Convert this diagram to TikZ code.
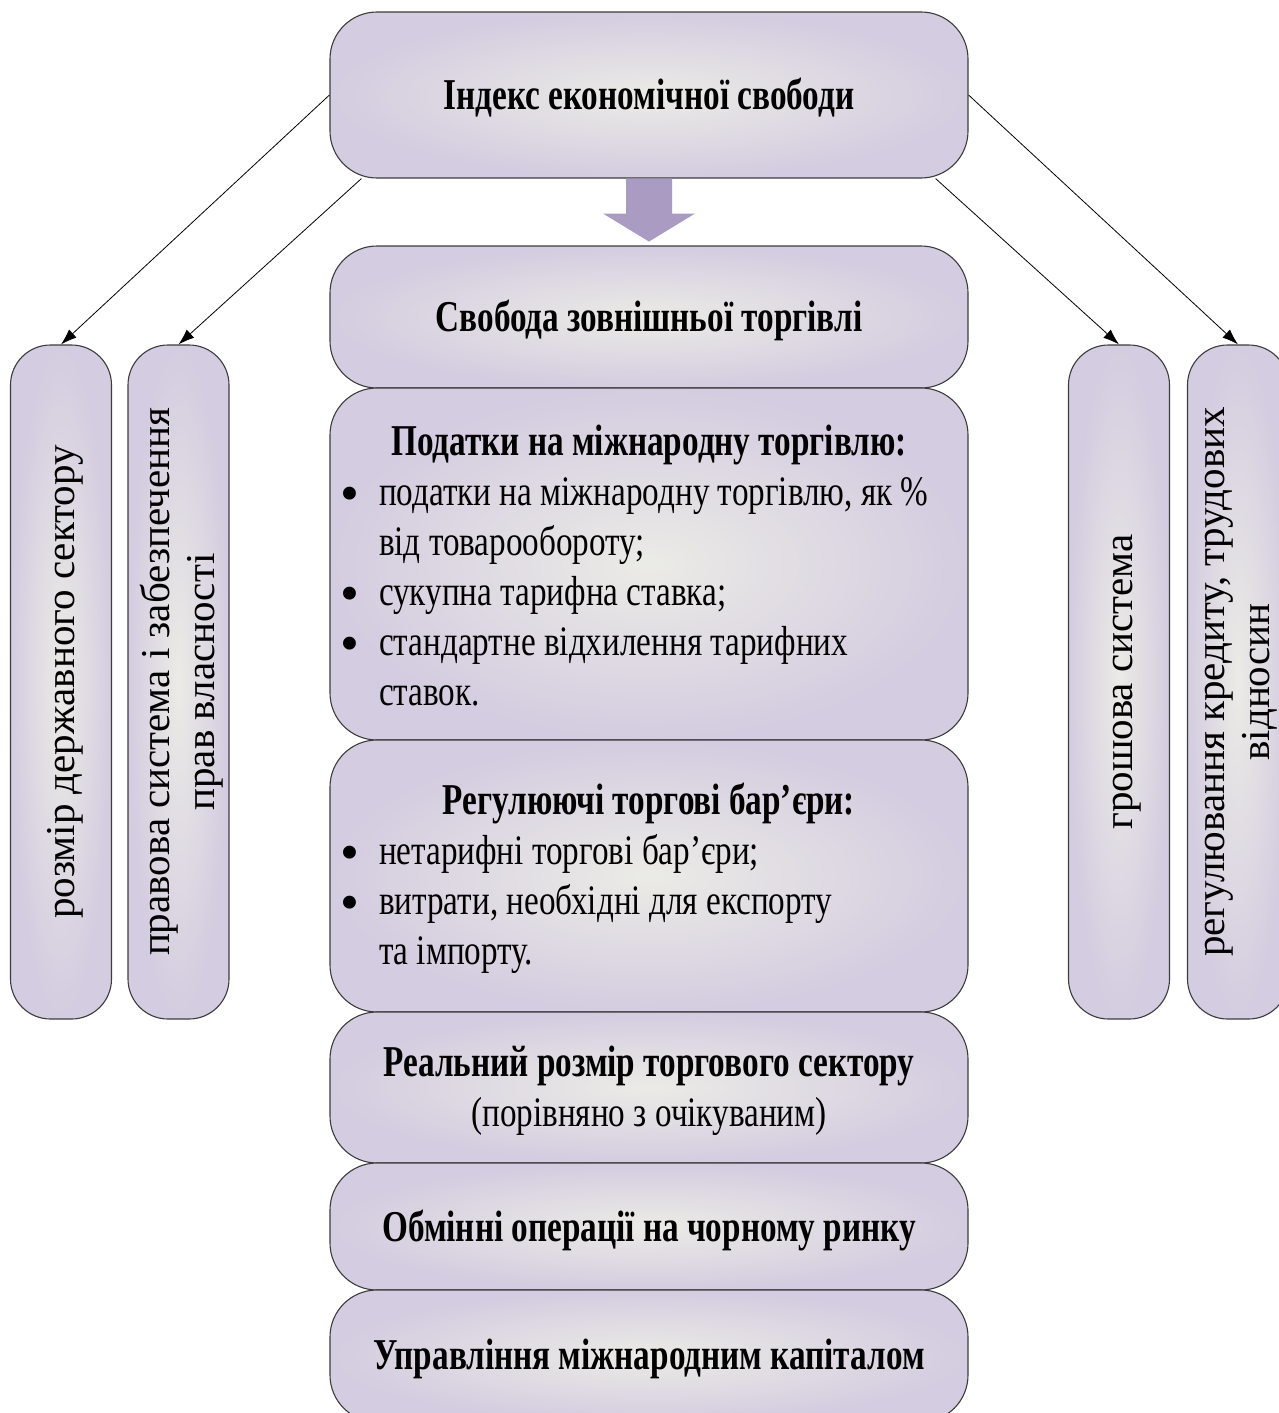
\documentclass[tikz,border=0pt]{standalone}
\usepackage{fontspec}
\setmainfont{Liberation Serif}
\newfontfamily\condfont{Liberation Serif}[FakeStretch=0.79]
\newfontfamily\condhead{Liberation Serif}[FakeStretch=0.755]
\usetikzlibrary{arrows.meta}
\definecolor{boxout}{HTML}{D4CCE0}
\definecolor{boxin}{HTML}{EBEBE6}
\definecolor{bigarrow}{HTML}{AA9BC3}
\definecolor{edgecol}{HTML}{3C3C3C}
\newcommand\hd[1]{{\condhead\bfseries\fontsize{44}{50}\selectfont #1}}
\newcommand\bul{\hspace*{5pt}\raisebox{-6pt}{\normalfont\fontsize{54}{50}\selectfont\textbullet}}
% push content down by #1 (extra height of 2x#1 above it)
\newcommand\cdn[2][4pt]{\raisebox{0pt}[\dimexpr\height+2\dimexpr#1\relax\relax]{\begin{tabular}{@{}c@{}}#2\end{tabular}}}
\newcommand\sdn[2][8pt]{\raisebox{0pt}[\dimexpr\height+#1\relax]{\begin{tabular}{@{}c@{}}#2\end{tabular}}}
\tikzset{
 cbox/.style={draw=edgecol, line width=1.1pt, rounded corners=47pt, shade,
   inner color=boxin, outer color=boxout, minimum width=638pt, inner sep=0pt,
   font=\condfont\fontsize{42}{50}\selectfont, align=center},
 sbox/.style={draw=edgecol, line width=1.1pt, rounded corners=40pt, shade,
   inner color=boxin, outer color=boxout, rotate=90, minimum width=674pt,
   minimum height=101pt, inner sep=0pt, font=\fontsize{41}{45}\selectfont, align=center},
 link/.style={draw=black, line width=0.8pt, -{Latex[length=16pt,width=11pt]}},
}
\begin{document}
\begin{tikzpicture}[x=1pt,y=-1pt]
\useasboundingbox (0,0) rectangle (1279,1413);
\clip (0,0) rectangle (1279,1413);
% side boxes
\node[sbox] (l1) at (61,682) {\sdn{розмір державного сектору}};
\node[sbox] (l2) at (178.5,682) {\sdn{правова система і забезпечення\\прав власності}};
\node[sbox] (r1) at (1119,682) {\sdn{грошова система}};
\node[sbox] (r2) at (1238,682) {\sdn[0pt]{регулювання кредиту, трудових\\відносин}};
% central column
\node[cbox, minimum height=166pt] (top) at (649,95) {\cdn[4pt]{\hd{Індекс економічної свободи}}};
\node[cbox, minimum height=142pt] (b2) at (649,317) {\cdn[4pt]{\hd{Свобода зовнішньої торгівлі}}};
\node[cbox, minimum height=352pt] (b3) at (649,564) {\raisebox{0pt}[\dimexpr\height+12pt\relax]{%
\begin{tabular}{@{}p{44pt}@{}p{584pt}@{}}
\multicolumn{2}{@{}c@{}}{\hd{Податки на міжнародну торгівлю:}}\\
\bul & податки на міжнародну торгівлю, як \%\\
 & від товарообороту;\\
\bul & сукупна тарифна ставка;\\
\bul & стандартне відхилення тарифних\\
 & ставок.
\end{tabular}}};
\node[cbox, minimum height=272pt] (b4) at (649,876) {\raisebox{0pt}[\dimexpr\height+7pt\relax]{%
\begin{tabular}{@{}p{44pt}@{}p{584pt}@{}}
\multicolumn{2}{@{}c@{}}{\hd{Регулюючі торгові бар’єри:}}\\
\bul & нетарифні торгові бар’єри;\\
\bul & витрати, необхідні для експорту\\
 & та імпорту.
\end{tabular}}};
\node[cbox, minimum height=151pt] (b5) at (649,1087.5) {\cdn[4pt]{\hd{Реальний розмір торгового сектору}\\(порівняно з очікуваним)}};
\node[cbox, minimum height=127pt] (b6) at (649,1226.5) {\cdn[5pt]{\hd{Обмінні операції на чорному ринку}}};
\node[cbox, minimum height=132pt] (b7) at (649,1356) {\cdn[3pt]{\hd{Управління міжнародним капіталом}}};
% big arrow
\fill[bigarrow] ([xshift=-23pt]top.south) -- ++(0,35) -- ++(-23,0) -- ++(46,28)
  -- ++(46,-28) -- ++(-23,0) -- ++(0,-35) -- cycle;
% connectors
\draw[link] (top.west) -- (l1.east);
\draw[link] ([xshift=32pt]top.south west) -- (l2.east);
\draw[link] (top.east) -- (r2.east);
\draw[link] ([xshift=-33pt]top.south east) -- (r1.east);
\end{tikzpicture}
\end{document}
